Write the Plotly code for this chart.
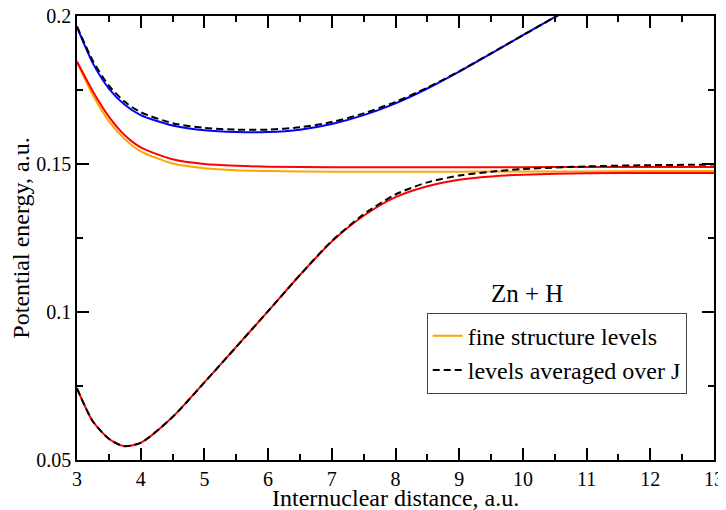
import plotly.graph_objects as go

# ---- data ----
x_blue = [3, 3.25, 3.5, 3.75, 4, 4.5, 5, 5.5, 6, 6.5, 7, 7.5, 8, 8.5, 9, 9.5, 10, 10.5, 11]
y_blue = [0.1962, 0.1840, 0.1755, 0.1700, 0.1665, 0.1630, 0.1614, 0.1608, 0.1608, 0.1616,
          0.1635, 0.1665, 0.1705, 0.1755, 0.1812, 0.1873, 0.1935, 0.1996, 0.2055]

x_dash_up = [3, 3.25, 3.5, 3.75, 4, 4.5, 5, 5.5, 6, 6.5, 7, 7.5, 8, 8.5, 9, 9.5, 10, 10.5, 11]
y_dash_up = [0.1965, 0.1848, 0.1765, 0.1710, 0.1675, 0.1638, 0.1622, 0.1616, 0.1616, 0.1624,
             0.1642, 0.1671, 0.1710, 0.1758, 0.1813, 0.1874, 0.1935, 0.1996, 0.2055]

x_red_up = [3, 3.25, 3.5, 3.75, 4, 4.5, 5, 5.5, 6, 7, 8, 9, 10, 11, 12, 13]
y_red_up = [0.1846, 0.1745, 0.1660, 0.1597, 0.1556, 0.1516, 0.1500, 0.1494, 0.1491, 0.1489,
            0.1489, 0.1489, 0.1489, 0.1490, 0.1490, 0.1490]

x_orange = [3, 3.25, 3.5, 3.75, 4, 4.5, 5, 5.5, 6, 7, 8, 9, 10, 11, 12, 13]
y_orange = [0.1843, 0.1732, 0.1645, 0.1584, 0.1543, 0.1502, 0.1486, 0.1479, 0.1476, 0.1474,
            0.1474, 0.1474, 0.1475, 0.1475, 0.1476, 0.1476]

x_red_low = [3, 3.25, 3.5, 3.73, 4, 4.5, 5, 5.5, 6, 6.5, 7, 7.5, 8, 8.5, 9, 9.5, 10, 11, 12, 13]
y_red_low = [0.0742, 0.0630, 0.0572, 0.0547, 0.0558, 0.0645, 0.0762, 0.0882, 0.1003, 0.1125,
             0.1238, 0.1325, 0.1388, 0.1425, 0.1447, 0.1458, 0.1464, 0.1469, 0.1470, 0.1470]

x_dash_low = [3, 3.25, 3.5, 3.73, 4, 4.5, 5, 5.5, 6, 6.5, 7, 7.5, 8, 8.5, 9, 9.5, 10, 11, 12, 13]
y_dash_low = [0.0742, 0.0630, 0.0572, 0.0547, 0.0558, 0.0645, 0.0762, 0.0882, 0.1003, 0.1125,
              0.1240, 0.1330, 0.1397, 0.1438, 0.1461, 0.1474, 0.1483, 0.1492, 0.1496, 0.1498]

x_ticks = [3, 4, 5, 6, 7, 8, 9, 10, 11, 12, 13]
y_ticks = [0.05, 0.1, 0.15, 0.2]
y_tick_text = ["0.05", "0.1", "0.15", "0.2"]

legend_names = ["fine structure levels", "levels averaged over J"]
annotation_text = "Zn + H"
x_title = "Internuclear distance, a.u."
y_title = "Potential energy, a.u."

FONT = "Liberation Serif"

fig = go.Figure()

def add(x, y, color, dash="solid", name=None, show=False):
    fig.add_trace(go.Scatter(
        x=x, y=y, mode="lines", name=name, showlegend=show,
        line=dict(color=color, width=2, dash=dash, shape="spline", smoothing=0.7),
        hoverinfo="skip"))

add(x_orange, y_orange, "#ffa500", name=legend_names[0], show=True)
add(x_red_up, y_red_up, "#ff0000")
add(x_red_low, y_red_low, "#ff0000")
add(x_blue, y_blue, "#0000ff")
add(x_dash_low, y_dash_low, "#000000", dash="7px,4px")
add(x_dash_up, y_dash_up, "#000000", dash="7px,4px", name=legend_names[1], show=True)

axis_common = dict(
    showline=True, linecolor="black", linewidth=1.5, mirror="ticks",
    ticks="inside", ticklen=12, tickwidth=1.5, tickcolor="black",
    showgrid=False, zeroline=False, automargin=False,
    ticklabeloverflow="allow",
    tickfont=dict(family=FONT, size=20, color="black"),
)

fig.update_xaxes(
    range=[3, 13], tickvals=x_ticks, ticklabelstandoff=0,
    minor=dict(ticks="inside", ticklen=6, tickwidth=1.5, tickcolor="black", dtick=0.5, showgrid=False),
    **axis_common)
fig.update_yaxes(
    range=[0.05, 0.2], tickvals=y_ticks, ticktext=y_tick_text,
    minor=dict(ticks="inside", ticklen=6, tickwidth=1.5, tickcolor="black", dtick=0.025, tick0=0.05, showgrid=False),
    title=dict(text=y_title, font=dict(family=FONT, size=24, color="black"), standoff=4),
    **axis_common)

fig.add_annotation(x=10.06, y=0.1063, xref="x", yref="y", text=annotation_text, showarrow=False,
                   font=dict(family=FONT, size=25, color="black"))
fig.add_annotation(x=0.5, y=-0.086, xref="paper", yref="paper", yanchor="middle", text=x_title,
                   showarrow=False, font=dict(family=FONT, size=24, color="black"))

# page body adds an 8px offset, so margins are shifted to keep the plot area in place
fig.update_layout(
    width=726, height=510,
    margin=dict(l=69, r=20, t=8, b=58),
    paper_bgcolor="white", plot_bgcolor="white",
    font=dict(family=FONT, color="black"),
    legend=dict(x=0.549, y=0.332, xanchor="left", yanchor="top",
                bgcolor="white", bordercolor="#444", borderwidth=1,
                font=dict(family=FONT, size=24, color="black"),
                itemwidth=30, tracegroupgap=0),
)

fig.write_html("out.html")
